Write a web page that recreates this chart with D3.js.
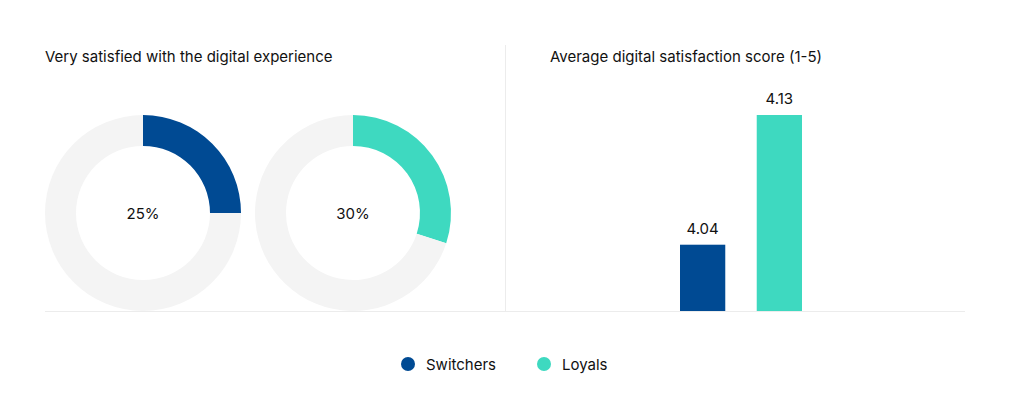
<!DOCTYPE html>
<html>
<head>
<meta charset="utf-8">
<script src="https://cdn.jsdelivr.net/npm/d3@7"></script>
<style>
  body { margin: 0; background: #fff; }
  svg { display: block; font-family: Inter, "Noto Sans", sans-serif; }
</style>
</head>
<body>
<svg id="chart" width="1010" height="417"></svg>
<script>
const groups = ['Switchers', 'Loyals'];
const colors = ['#004a93', '#3ed9c0'];
const verySatisfied = [25, 30];
const scores = [4.04, 4.13];
const donutTitle = 'Very satisfied with the digital experience';
const barTitle = 'Average digital satisfaction score (1-5)';

const svg = d3.select('#chart');
const baseY = 311;

// gridlines: divider and baseline
svg.append('line')
  .attr('x1', 45).attr('x2', 965).attr('y1', baseY + 0.5).attr('y2', baseY + 0.5)
  .attr('stroke', '#ececec');
svg.append('line')
  .attr('x1', 505.5).attr('x2', 505.5).attr('y1', 45).attr('y2', baseY)
  .attr('stroke', '#ececec');

// titles
svg.append('text').attr('x', 45).attr('y', 62)
  .attr('font-size', 15).attr('fill', '#111').text(donutTitle);
svg.append('text').attr('x', 550).attr('y', 62)
  .attr('font-size', 15).attr('fill', '#111').text(barTitle);

// donuts
const donutX = d3.scalePoint().domain(groups).range([143, 353]);
const pie = d3.pie().sort(null);
const arc = d3.arc().innerRadius(67).outerRadius(98);

groups.forEach((g, i) => {
  const gEl = svg.append('g').attr('transform', `translate(${donutX(g)},213)`);
  gEl.selectAll('path')
    .data(pie([verySatisfied[i], 100 - verySatisfied[i]]))
    .enter().append('path')
    .attr('d', arc)
    .attr('fill', (d, j) => j === 0 ? colors[i] : '#f4f4f4');
  gEl.append('text')
    .attr('text-anchor', 'middle').attr('y', 6)
    .attr('font-size', 15).attr('fill', '#111')
    .text(verySatisfied[i] + '%');
});

// bars
const xScale = d3.scaleBand().domain(groups).range([680, 802]).paddingInner(0.41);
const yScale = d3.scaleLinear().domain([3.994, 4.13]).range([baseY, 115]);

svg.selectAll('rect.bar')
  .data(scores)
  .enter().append('rect')
  .attr('class', 'bar')
  .attr('x', (d, i) => xScale(groups[i]))
  .attr('y', d => yScale(d))
  .attr('width', xScale.bandwidth())
  .attr('height', d => baseY - yScale(d))
  .attr('fill', (d, i) => colors[i]);

svg.selectAll('text.val')
  .data(scores)
  .enter().append('text')
  .attr('class', 'val')
  .attr('x', (d, i) => xScale(groups[i]) + xScale.bandwidth() / 2)
  .attr('y', d => yScale(d) - 11)
  .attr('text-anchor', 'middle')
  .attr('font-size', 15).attr('fill', '#111')
  .text(d => d.toFixed(2));

// legend
const legendX = [408, 544];
groups.forEach((g, i) => {
  svg.append('circle').attr('cx', legendX[i]).attr('cy', 364).attr('r', 7).attr('fill', colors[i]);
  svg.append('text').attr('x', legendX[i] + 18).attr('y', 369.5)
    .attr('font-size', 15).attr('fill', '#111').text(g);
});
</script>
</body>
</html>
